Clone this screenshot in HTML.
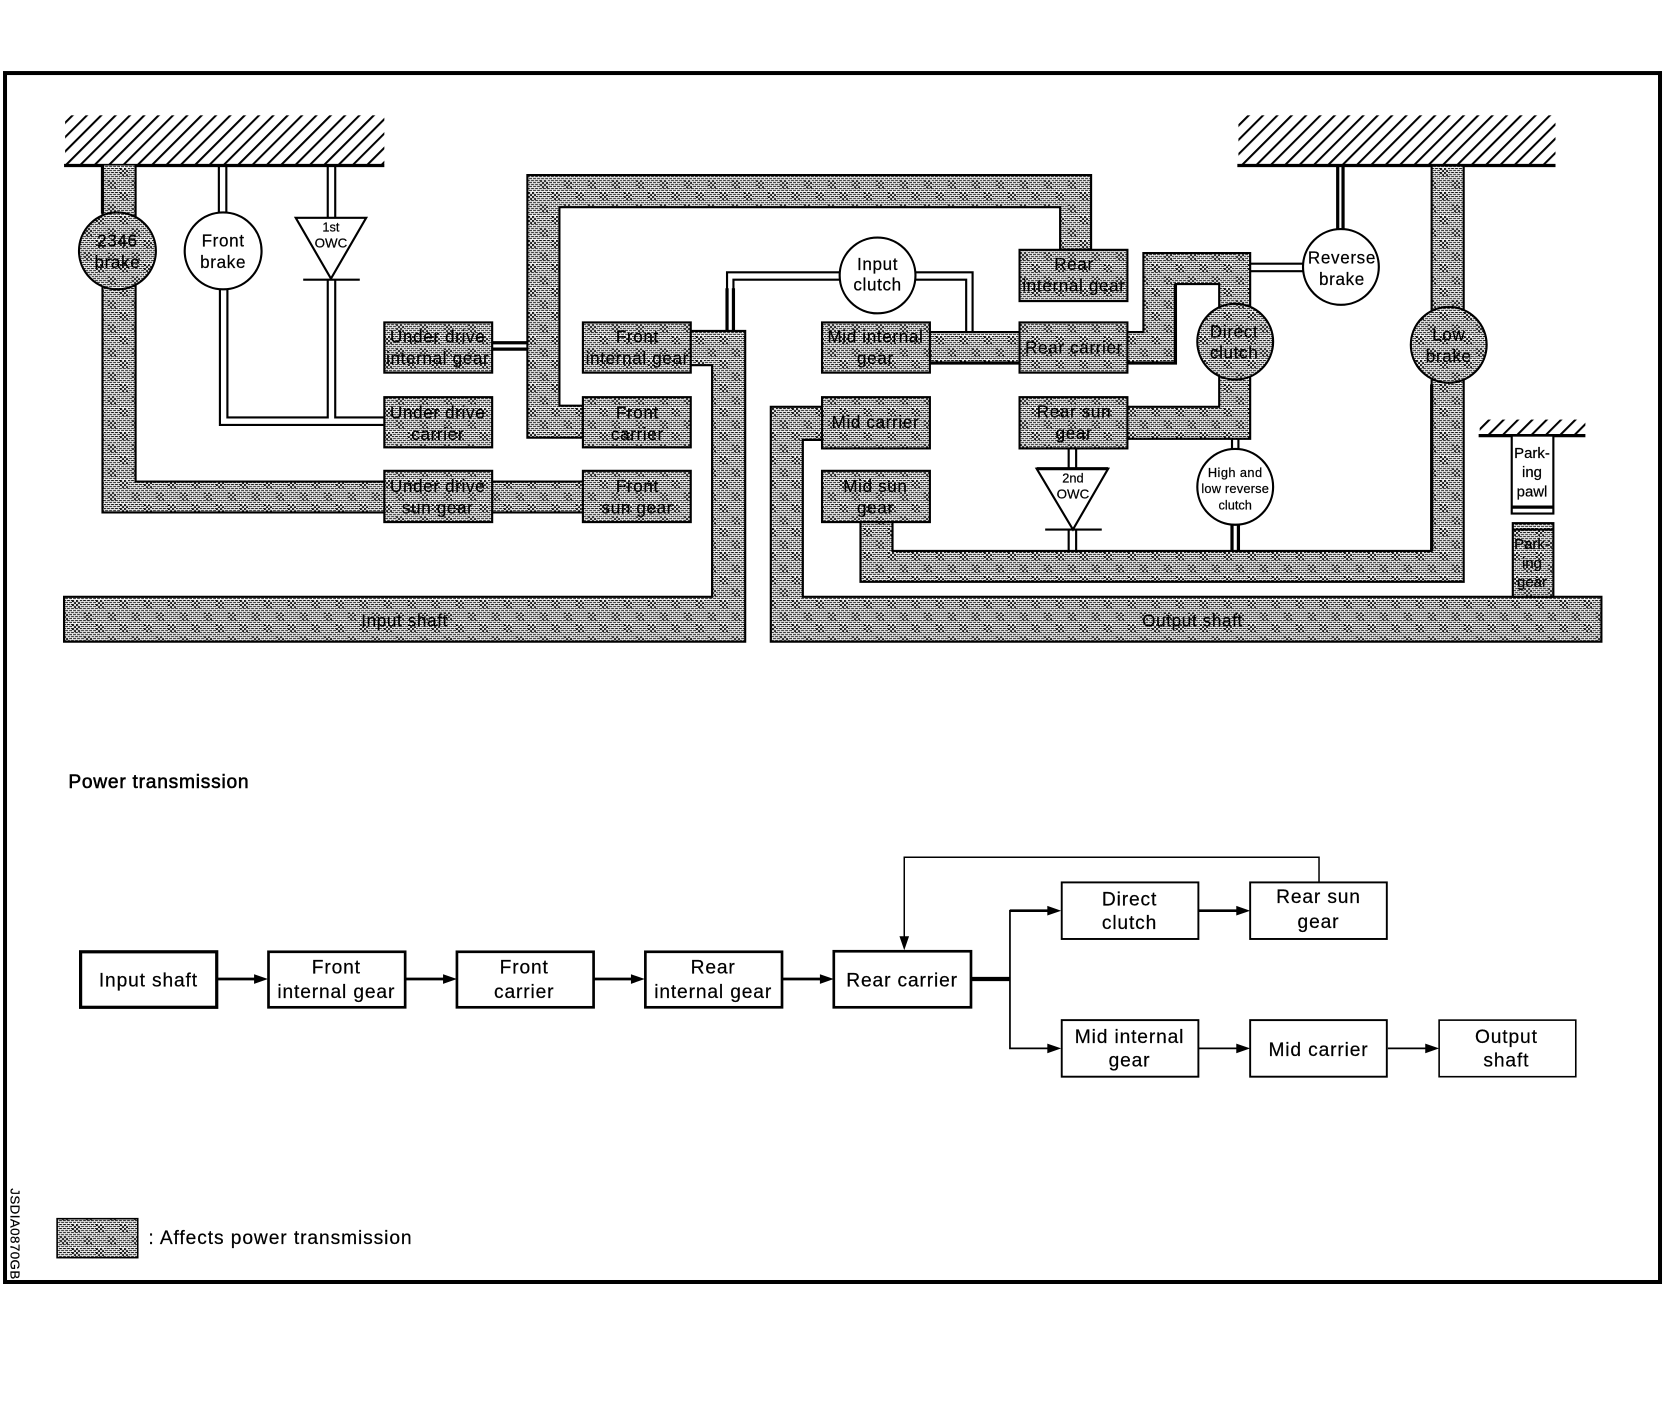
<!DOCTYPE html>
<html><head><meta charset="utf-8"><style>
html,body{margin:0;padding:0;background:#fff;width:1674px;height:1408px;overflow:hidden}
svg{display:block}
text{font-family:"Liberation Sans",sans-serif;fill:#000;stroke:#000;stroke-width:.2px;text-anchor:middle}
.b{font-size:16px;letter-spacing:.6px}
.f{font-size:18px;letter-spacing:.8px}
.s{fill:url(#d);stroke:#000;stroke-width:2}
.n{fill:none;stroke:#000;stroke-width:2}
.t{fill:none;stroke:#000;stroke-width:3}
.w{fill:#fff;stroke:#000;stroke-width:2}
</style></head><body>
<svg width="1674" height="1408" viewBox="0 0 1568 1318.8" xmlns="http://www.w3.org/2000/svg">
<defs>
<pattern id="c" width="4" height="4" patternUnits="userSpaceOnUse"><rect width="4" height="4" fill="#fff"/><rect width="2" height="2"/><rect x="2" y="2" width="2" height="2"/></pattern>
<pattern id="p" width="4" height="4" patternUnits="userSpaceOnUse"><rect width="4" height="4" fill="#fff"/><rect width="2" height="1"/><rect x="2" y="2" width="2" height="1"/><rect x="3" width="1" height="1"/><rect x="1" y="2" width="1" height="1"/></pattern>
<pattern id="d" width="24" height="24" patternUnits="userSpaceOnUse" patternTransform="scale(.9367)"><rect width="24" height="24" fill="url(#p)"/><rect width="8" height="8" fill="url(#c)"/><rect x="12" y="12" width="8" height="8" fill="url(#c)"/></pattern>
<pattern id="h" width="9.5" height="9.5" patternUnits="userSpaceOnUse" patternTransform="rotate(45)"><rect width="1.9" height="9.5"/></pattern>
</defs>
<rect x="4.700" y="68.400" width="1550.200" height="1132.400" fill="none" stroke="#000" stroke-width="3.750"/>

<!-- ground hatches -->
<rect x="61" y="108" width="299" height="46" fill="url(#h)"/><path d="M60 155H360" class="t"/>
<rect x="1160" y="108" width="297" height="46" fill="url(#h)"/><path d="M1159 155H1457" class="t"/>
<rect x="1386" y="393" width="99" height="14" fill="url(#h)"/><path d="M1385 408H1485" class="t"/>

<!-- shaded shafts -->
<path class="s" d="M60 559H667V342H646V310H698V601H60Z"/>
<path class="s" d="M770 381H722V601H1500V559H752V412H770Z"/>
<path class="s" d="M546 410H494V164H1022V234H993V194H524V380H546Z"/>
<path d="M96 155V480H545V451H127V155Z" fill="url(#d)"/>
<path class="n" d="M546 451H127V155M96 155V480H546"/>
<path d="M96 155V200" class="t"/>
<path d="M870 311H955V340H870Z" fill="url(#d)"/><path d="M870 311H955" class="n"/><path d="M870 340H955" class="t"/>
<path class="s" d="M1056 311H1071V237H1171V411H1056V381H1142V266H1101V340H1056Z"/>
<path d="M1101 266V340H1056" class="t"/>
<path class="s" d="M806 489V545H1371V155H1341V516H836V489Z"/>
<path d="M1341 360V516" class="t"/>
<rect x="1417" y="490" width="38" height="69" class="s"/><path d="M1417 496H1455" class="n"/>
<rect x="1416" y="408" width="39" height="73" class="w"/><path d="M1416 475H1455" class="t"/>

<!-- double-line links -->
<path class="n" d="M205 155V201M212 155V201M206 271V398H360M213 271V391H307V262M314 262V391H360"/>
<path class="n" d="M307 155V204M314 155V204"/>
<path class="t" d="M461 321H494M461 327H494"/>
<path class="n" d="M681 310V255H787M687 310V262H787M857 255H911V311M857 262H905V311"/>
<path class="t" d="M681 270V310M687 270V310"/>
<path class="t" d="M1253 155V215M1258 155V215"/>
<path class="n" d="M1171 247H1221M1171 254H1221"/>
<path class="n" d="M1001 419V439M1008 419V439M1001 496V516M1008 496V516"/>
<path class="n" d="M1154 411V421M1160 411V421"/><path class="t" d="M1154 491V516M1160 491V516"/>

<!-- one way clutches -->
<path class="w" d="M277 204H343L310 261Z"/><path class="n" d="M284 262H337"/>
<path class="w" d="M971 439H1038L1005 496Z"/><path class="t" d="M971 439H1038"/><path class="n" d="M979 496H1032"/>
<text x="310" y="217" font-size="12">1st</text><text x="310" y="232" font-size="12.500">OWC</text>
<text x="1005" y="452" font-size="12">2nd</text><text x="1005" y="467" font-size="12.500">OWC</text>

<!-- circles -->
<circle cx="110" cy="235" r="36" class="s"/>
<circle cx="209" cy="235" r="36" class="w"/>
<circle cx="822" cy="258" r="35.500" class="w"/>
<circle cx="1256" cy="250" r="35.500" class="w"/>
<circle cx="1157" cy="320" r="35.500" class="s"/>
<circle cx="1357" cy="323" r="35.500" class="s"/>
<circle cx="1157" cy="456" r="35.500" class="w"/>
<text class="b" x="110" y="231">2346</text><text class="b" x="110" y="251">brake</text>
<text class="b" x="209" y="231">Front</text><text class="b" x="209" y="251">brake</text>
<text class="b" x="822" y="253">Input</text><text class="b" x="822" y="272">clutch</text>
<text class="b" x="1257" y="247">Reverse</text><text class="b" x="1257" y="267">brake</text>
<text class="b" x="1156" y="316">Direct</text><text class="b" x="1156" y="336">clutch</text>
<text class="b" x="1357" y="319">Low</text><text class="b" x="1357" y="339">brake</text>
<text x="1157" y="447" font-size="12" letter-spacing=".4">High and</text>
<text x="1157" y="462" font-size="12" letter-spacing=".2">low reverse</text>
<text x="1157" y="477" font-size="12">clutch</text>

<!-- boxes -->
<rect x="360" y="302" width="101" height="47" class="s"/>
<rect x="360" y="372" width="101" height="47" class="s"/>
<rect x="360" y="441" width="101" height="48" class="s"/>
<rect x="546" y="302" width="101" height="47" class="s"/>
<rect x="546" y="372" width="101" height="47" class="s"/>
<rect x="546" y="441" width="101" height="48" class="s"/>
<rect x="770" y="302" width="101" height="47" class="s"/>
<rect x="770" y="372" width="101" height="48" class="s"/>
<rect x="770" y="441" width="101" height="48" class="s"/>
<rect x="955" y="234" width="101" height="48" class="s"/>
<rect x="955" y="302" width="101" height="47" class="s"/>
<rect x="955" y="372" width="101" height="48" class="s"/>
<text class="b" x="410" y="321">Under drive</text><text class="b" x="410" y="341">internal gear</text>
<text class="b" x="410" y="392">Under drive</text><text class="b" x="410" y="412">carrier</text>
<text class="b" x="410" y="461">Under drive</text><text class="b" x="410" y="481">sun gear</text>
<text class="b" x="597" y="321">Front</text><text class="b" x="597" y="341">internal gear</text>
<text class="b" x="597" y="392">Front</text><text class="b" x="597" y="412">carrier</text>
<text class="b" x="597" y="461">Front</text><text class="b" x="597" y="481">sun gear</text>
<text class="b" x="820" y="321">Mid internal</text><text class="b" x="820" y="341">gear</text>
<text class="b" x="820" y="401">Mid carrier</text>
<text class="b" x="820" y="461">Mid sun</text><text class="b" x="820" y="481">gear</text>
<text class="b" x="1006" y="253">Rear</text><text class="b" x="1006" y="273">internal gear</text>
<text class="b" x="1006" y="331">Rear carrier</text>
<text class="b" x="1006" y="391">Rear sun</text><text class="b" x="1006" y="411">gear</text>
<text class="b" x="379" y="587">Input shaft</text>
<text class="b" x="1117" y="587">Output shaft</text>
<text x="1435" y="429" font-size="14">Park-</text><text x="1435" y="447" font-size="14">ing</text><text x="1435" y="465" font-size="14">pawl</text>
<text x="1435" y="514" font-size="14">Park-</text><text x="1435" y="532" font-size="14">ing</text><text x="1435" y="550" font-size="14">gear</text>

<!-- power transmission -->
<text x="64" y="738" font-size="18" letter-spacing=".7" style="text-anchor:start;stroke-width:.5px">Power transmission</text>
<g fill="#fff" stroke="#000">
<rect x="75.500" y="891.500" width="127.500" height="52" stroke-width="3"/>
<rect x="251.500" y="891.500" width="128" height="52" stroke-width="2.500"/>
<rect x="428" y="891.500" width="128" height="52" stroke-width="2.500"/>
<rect x="604.500" y="891.500" width="128" height="52" stroke-width="2.500"/>
<rect x="781" y="891" width="128.500" height="52.500" stroke-width="2.500"/>
<rect x="994.500" y="826.500" width="128" height="53" stroke-width="1.800"/>
<rect x="1171" y="826.500" width="128" height="53" stroke-width="1.800"/>
<rect x="994.500" y="955.500" width="128" height="53" stroke-width="1.800"/>
<rect x="1171" y="955.500" width="128" height="53" stroke-width="1.800"/>
<rect x="1348" y="955.500" width="128" height="53" stroke-width="1.500"/>
</g>
<path d="M203 917H240M380 917H417M556 917H593M733 917H770M1123 853H1160" stroke="#000" stroke-width="2.500" fill="none"/>
<path d="M910 917H946" stroke="#000" stroke-width="4" fill="none"/>
<path d="M983 853H946V982H983M1123 982H1160M1300 982H1337" stroke="#000" stroke-width="1.600" fill="none"/>
<path d="M946 853H983" stroke="#000" stroke-width="2.500" fill="none"/>
<path d="M1235.500 826V803H847V880" stroke="#000" stroke-width="1.400" fill="none"/>
<path d="M238 912.500L251 917L238 921.500ZM415 912.500L428 917L415 921.500ZM591 912.500L604 917L591 921.500ZM768 912.500L781 917L768 921.500ZM981 848.500L994 853L981 857.500ZM1158 848.500L1171 853L1158 857.500ZM981 977.500L994 982L981 986.500ZM1158 977.500L1171 982L1158 986.500ZM1335 977.500L1348 982L1335 986.500ZM842.500 877L847 890L851.500 877Z"/>
<text class="f" x="139" y="924">Input shaft</text>
<text class="f" x="315" y="912">Front</text><text class="f" x="315" y="935">internal gear</text>
<text class="f" x="491" y="912">Front</text><text class="f" x="491" y="935">carrier</text>
<text class="f" x="668" y="912">Rear</text><text class="f" x="668" y="935">internal gear</text>
<text class="f" x="845" y="924">Rear carrier</text>
<text class="f" x="1058" y="848">Direct</text><text class="f" x="1058" y="870">clutch</text>
<text class="f" x="1235" y="846">Rear sun</text><text class="f" x="1235" y="869">gear</text>
<text class="f" x="1058" y="977">Mid internal</text><text class="f" x="1058" y="999">gear</text>
<text class="f" x="1235" y="989">Mid carrier</text>
<text class="f" x="1411" y="977">Output</text><text class="f" x="1411" y="999">shaft</text>
<rect x="53.500" y="1141.500" width="75.500" height="36.500" fill="url(#d)" stroke="#000" stroke-width="1.500"/>
<text x="139" y="1165" font-size="18" letter-spacing=".85" style="text-anchor:start">: Affects power transmission</text>
<text transform="translate(10 1113) rotate(90)" font-size="12.500" letter-spacing=".4" style="text-anchor:start">JSDIA0870GB</text>
</svg>
</body></html>
